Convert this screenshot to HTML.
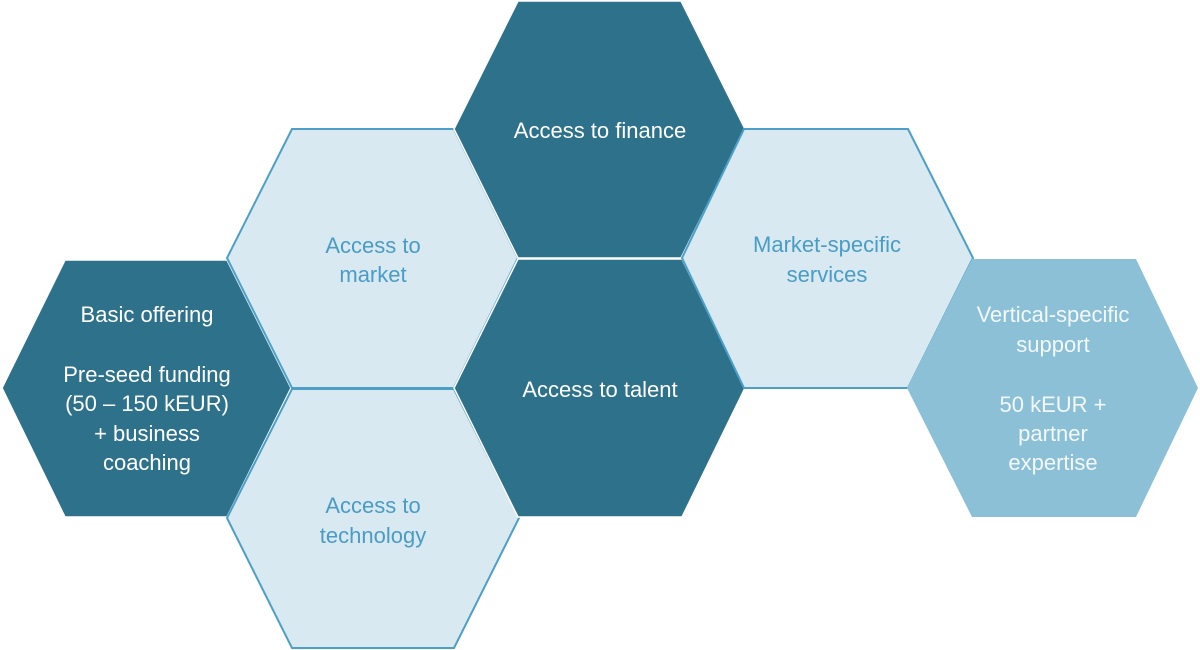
<!DOCTYPE html>
<html>
<head>
<meta charset="utf-8">
<style>
  html, body { margin:0; padding:0; background:#ffffff; }
  body { width:1200px; height:650px; overflow:hidden; }
  svg { display:block; }
  text { font-family: "Liberation Sans", sans-serif; font-size:22px; text-anchor:middle; }
  .w { fill:#ffffff; }
  .vt { fill:#f2f8fb; }
  .b { fill:#4a9cc4; }
</style>
</head>
<body>
<svg width="1200" height="650" viewBox="0 0 1200 650" xmlns="http://www.w3.org/2000/svg">
  <!-- Basic offering (dark) -->
  <polygon points="65,260 227,260 291,388 227,517 65,517 2,388" fill="#2e718b" stroke="#ffffff" stroke-width="1.5"/>
  <!-- Access to market (light) -->
  <polygon points="292,129 454,129 518,258 454,388 292,388 227,258" fill="#d8e9f1" stroke="#4d9fc6" stroke-width="2"/>
  <!-- Access to technology (light) -->
  <polygon points="292,389 454,389 519,518 454,648 292,648 227,518" fill="#d8e9f1" stroke="#4d9fc6" stroke-width="2"/>
  <!-- Access to finance (dark) -->
  <polygon points="518,1 681,1 745,129 681,258 518,258 454,129" fill="#2e718b" stroke="#ffffff" stroke-width="1.5"/>
  <!-- Access to talent (dark) -->
  <polygon points="518,259 682,259 745,388 682,517 518,517 454,388" fill="#2e718b" stroke="#ffffff" stroke-width="1.5"/>
  <!-- Market-specific services (light) -->
  <polygon points="744,129 908,129 973,258 908,388 744,388 682,258" fill="#d8e9f1" stroke="#4d9fc6" stroke-width="2"/>
  <!-- Vertical-specific support (mid) -->
  <polygon points="972,259 1136,259 1198,388 1136,517 972,517 907,388" fill="#8bc0d6"/>

  <!-- Texts -->
  <text class="w" x="147" y="322">Basic offering</text>
  <text class="w" x="147" y="382">Pre-seed funding</text>
  <text class="w" x="147" y="411">(50 – 150 kEUR)</text>
  <text class="w" x="147" y="441">+ business</text>
  <text class="w" x="147" y="470">coaching</text>

  <text class="b" x="373" y="253">Access to</text>
  <text class="b" x="373" y="282">market</text>

  <text class="b" x="373" y="513">Access to</text>
  <text class="b" x="373" y="543">technology</text>

  <text class="w" x="600" y="138">Access to finance</text>
  <text class="w" x="600" y="397">Access to talent</text>

  <text class="b" x="827" y="252">Market-specific</text>
  <text class="b" x="827" y="282">services</text>

  <text class="vt" x="1053" y="322">Vertical-specific</text>
  <text class="vt" x="1053" y="352">support</text>
  <text class="vt" x="1053" y="412">50 kEUR +</text>
  <text class="vt" x="1053" y="441">partner</text>
  <text class="vt" x="1053" y="470">expertise</text>
</svg>
</body>
</html>
